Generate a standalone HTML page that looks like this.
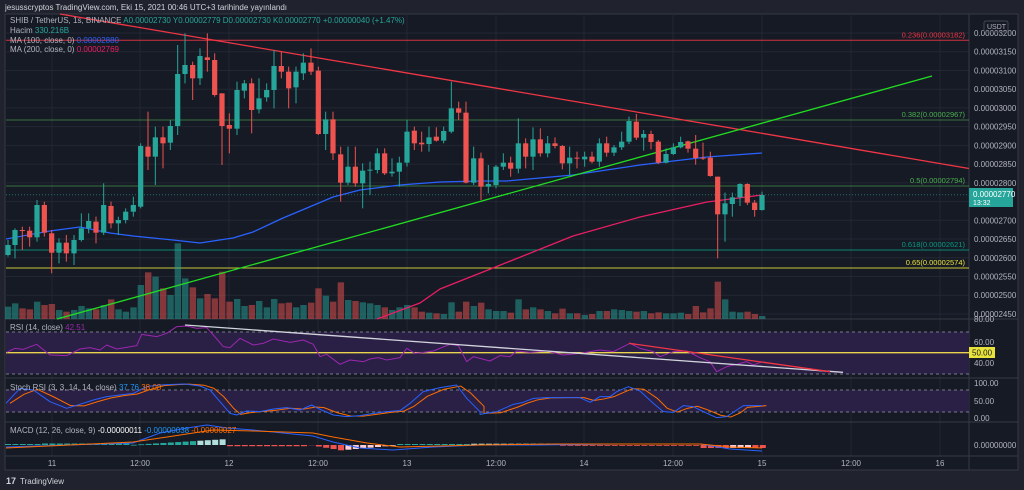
<!DOCTYPE html>
<html><head><meta charset="utf-8"><style>
html,body{margin:0;padding:0;background:#20232d;width:1024px;height:490px;overflow:hidden;font-family:"Liberation Sans",sans-serif}
svg text{font-family:"Liberation Sans",sans-serif}
</style></head><body>
<svg id="s" width="1024" height="490" xmlns="http://www.w3.org/2000/svg">
<rect x="0" y="0" width="1024" height="490" fill="#20232d"/>
<rect x="5" y="14" width="1013" height="456" fill="#161a25" stroke="#363a45" stroke-width="1"/>
<g id="grid"></g>
<g id="content"></g>
<text x="5" y="10" fill="#d1d4dc" font-size="8">jesusscryptos TradingView.com, Eki 15, 2021 00:46 UTC+3 tarihinde yayınlandı</text>
<text x="10" y="23" fill="#b2b5be" font-size="8">SHIB / TetherUS, 1s, BINANCE <tspan fill="#26a69a">A0.00002730 Y0.00002779 D0.00002730 K0.00002770 +0.00000040 (+1.47%)</tspan></text>
<text x="10" y="33" fill="#b2b5be" font-size="8">Hacim <tspan fill="#26a69a">330.216B</tspan></text>
<text x="10" y="43" fill="#b2b5be" font-size="8">MA (100, close, 0) <tspan fill="#2962ff">0.00002880</tspan></text>
<text x="10" y="52" fill="#b2b5be" font-size="8">MA (200, close, 0) <tspan fill="#e91e63">0.00002769</tspan></text>
<text x="10" y="330" fill="#b2b5be" font-size="8">RSI (14, close) <tspan fill="#9c27b0">42.51</tspan></text>
<text x="10" y="390" fill="#b2b5be" font-size="8">Stoch RSI (3, 3, 14, 14, close) <tspan fill="#2196f3">37.76</tspan> <tspan fill="#ff6d00">38.08</tspan></text>
<text x="10" y="433" fill="#b2b5be" font-size="8">MACD (12, 26, close, 9) <tspan fill="#fff">-0.00000011</tspan> <tspan fill="#2196f3">-0.00000038</tspan> <tspan fill="#ff6d00">-0.00000027</tspan></text>
<g fill="#b2b5be" font-size="8" id="xl"></g>
<text x="6" y="484" fill="#d1d4dc" font-size="9" font-weight="bold">17</text>
<text x="20" y="484" fill="#d1d4dc" font-size="8">TradingView</text>
</svg>
<script>
const S=document.getElementById('content'),G=document.getElementById('grid');
const NS='http://www.w3.org/2000/svg';
function el(p,t,a,txt){const e=document.createElementNS(NS,t);for(const k in a)e.setAttribute(k,a[k]);if(txt!=null)e.textContent=txt;p.appendChild(e);return e;}
const vx=[52,140,229,318,407,496,584,673,762,851,940];
vx.forEach(x=>el(G,'line',{x1:x,y1:14,x2:x,y2:456,stroke:'#232733','stroke-width':1}));
for(let k=0;k<16;k++){const y=33+k*18.73;el(G,'line',{x1:5,y1:y,x2:969,y2:y,stroke:'#232733','stroke-width':1});}
[319,378,422,456].forEach(y=>el(G,'line',{x1:5,y1:y,x2:1018,y2:y,stroke:'#363a45','stroke-width':1}));
el(G,'line',{x1:969,y1:14,x2:969,y2:470,stroke:'#363a45','stroke-width':1});
const pl=['3200','3150','3100','3050','3000','2950','2900','2850','2800','2750','2700','2650','2600','2550','2500','2450'];
pl.forEach((p,k)=>{if(p==='2750')return;el(S,'text',{x:974,y:33+k*18.73+3,fill:'#b2b5be','font-size':8},'0.0000'+p);});
el(S,'rect',{x:984,y:21,width:24,height:11,rx:2,fill:'none',stroke:'#434651'});
el(S,'text',{x:987,y:29,fill:'#b2b5be','font-size':7},'USDT');
const fib=[[40.3,'#f23645','0.236(0.00003182)'],[120,'#4caf50','0.382(0.00002967)'],[186,'#4caf50','0.5(0.00002794)'],[250,'#089981','0.618(0.00002621)'],[268,'#e8e33a','0.65(0.00002574)']];
fib.forEach(f=>{el(S,'line',{x1:6,y1:f[0],x2:969,y2:f[0],stroke:f[1],'stroke-width':1,opacity:f[1]=='#4caf50'?0.6:0.85});el(S,'text',{x:965,y:f[0]-3,fill:f[1],'font-size':7.5,'text-anchor':'end'},f[2]);});
el(S,'line',{x1:6,y1:194.7,x2:969,y2:194.7,stroke:'#26a69a','stroke-width':1,'stroke-dasharray':'1,2',opacity:0.6});
const A=[[24,675,705,660,710,1],[45,630,675,625,715,1],[67,630,633,620,690,0],[89,632,652,620,680,0],[111,555,652,540,665,1],[133,555,638,545,650,0],[155,640,698,630,760,0],[177,668,698,655,730,1],[199,668,700,645,725,0],[222,660,700,645,735,1],[244,625,660,580,665,1],[266,603,625,580,640,1],[288,605,638,590,670,0],[311,555,638,490,645,1],[333,558,610,545,625,0],[355,600,610,590,645,1],[377,575,600,565,610,1],[400,555,575,530,590,1],[422,378,560,370,565,1],[444,380,410,275,450,0],[466,352,410,320,495,1],[489,352,370,320,445,0],[511,318,368,300,390,1],[533,162,318,75,345,1],[555,135,162,40,190,1],[578,135,175,125,240,0],[600,108,175,85,195,1],[622,112,120,40,155,0],[644,120,225,100,230,0],[666,220,318,220,435,0],[688,315,326,280,400,0],[711,210,326,185,345,1],[733,190,212,180,235,1],[755,190,270,175,340,0],[777,235,268,175,280,1],[800,210,232,190,245,1],[822,138,210,90,265,1],[844,138,155,95,175,0],[866,155,205,140,265,0],[888,155,202,140,250,1],[910,128,160,100,180,1],[933,128,155,85,165,0],[955,152,342,140,345,0],[977,298,342,275,390,1],[999,298,400,275,420,0],[1022,403,488,380,545,0],[1044,440,488,380,495,1],[1066,440,490,380,500,0],[1088,452,490,430,565,1],[1110,449,452,425,525,1],[1132,400,450,385,460,1],[1154,400,460,385,465,0],[1176,455,460,415,470,1],[1198,428,455,410,500,1],[1221,335,428,300,440,1],[1243,332,370,320,390,0],[1265,368,373,335,395,0],[1287,352,372,320,395,1],[1309,350,362,322,365,0],[1331,333,362,320,370,1],[1354,265,335,185,340,1],[1376,265,278,245,300,0],[1398,278,488,245,490,0]];
const B=[[101,415,488,380,495,1],[123,415,500,398,540,0],[145,492,500,435,520,1],[168,440,495,435,505,1],[190,428,440,400,450,1],[212,428,446,410,470,0],[235,370,446,295,460,1],[257,370,410,355,445,0],[279,358,410,322,450,1],[301,358,400,325,410,0],[323,370,400,348,412,1],[345,370,378,352,385,0],[367,378,430,375,448,0],[389,413,430,380,465,1],[411,413,416,395,445,0],[434,410,418,395,440,1],[456,410,425,395,430,0],[478,370,425,355,440,1],[500,370,398,350,410,0],[522,382,398,375,408,1],[545,365,382,335,390,1],[567,303,365,290,372,1],[589,305,353,282,360,0],[611,342,353,330,392,1],[633,342,366,332,388,0],[655,365,428,360,432,0],[678,402,428,385,430,1],[700,382,402,370,405,1],[722,366,382,350,385,1],[744,364,386,362,398,0],[767,386,414,345,434,0],[789,413,415,368,420,0],[811,413,468,395,470,0],[833,470,583,470,715,0],[855,550,583,518,665,1],[877,532,552,518,590,1],[900,492,532,490,558,1],[922,492,548,490,555,0],[944,548,570,540,590,0],[966,525,570,515,572,1]];
const VA=[860,850,865,868,845,855,852,870,875,870,858,865,868,855,838,868,875,862,795,757,770,805,825,670,775,802,835,822,835,755,845,837,858,855,843,862,837,850,848,862,855,848,805,827,845,787,840,843,847,850,855,862,870,862,855,862,875,878,880,882,847,875,845];
const VB=[858,848,868,873,873,878,838,868,862,868,873,880,866,880,880,885,882,873,873,868,870,873,875,873,880,877,880,880,878,882,858,877,865,785,838,875,877,875,882,888];
const cand=[];
A.forEach((c,i)=>cand.push({x:c[0]/3,t:20+c[1]/3,b:20+c[2]/3,wt:20+c[3]/3,wb:20+c[4]/3,g:c[5],v:20+VA[i]/3}));
B.forEach((c,i)=>cand.push({x:440+c[0]/3,t:20+c[1]/3,b:20+c[2]/3,wt:20+c[3]/3,wb:20+c[4]/3,g:c[5],v:20+VB[i]/3}));
cand.forEach(c=>{el(S,'rect',{x:c.x-3,y:c.v,width:6.4,height:319-c.v,fill:c.g?'#26a69a':'#ef5350',opacity:0.5});});
function pl2(pts,col,w){el(S,'polyline',{points:pts.map(p=>p.join(',')).join(' '),fill:'none',stroke:col,'stroke-width':w||1.3,'stroke-linejoin':'round'});}
pl2([[6,239],[50,231],[80,227],[110,233],[133,236],[173,240],[200,243],[233,238],[253,232],[283,218],[307,208],[333,197],[360,190],[400,185],[440,182],[480,181],[507,181],[573,175],[640,165],[707,157],[762,153]],'#2962ff');
pl2([[377,319],[420,303],[440,289],[493,268],[573,236],[640,217],[707,202],[762,195]],'#e91e63');
el(S,'line',{x1:60,y1:14,x2:969,y2:168.5,stroke:'#f23645','stroke-width':1.3});
el(S,'line',{x1:57,y1:319,x2:932,y2:76,stroke:'#22dd22','stroke-width':1.3});
cand.forEach(c=>{const col=c.g?'#26a69a':'#ef5350';el(S,'line',{x1:c.x,y1:c.wt,x2:c.x,y2:c.wb,stroke:col,'stroke-width':1});el(S,'rect',{x:c.x-2.6,y:c.t,width:5.2,height:Math.max(1,c.b-c.t),fill:col});});
el(S,'rect',{x:969,y:188,width:44,height:19,fill:'#26a69a'});
el(S,'text',{x:973,y:197,fill:'#fff','font-size':8},'0.00002770');
el(S,'text',{x:973,y:205,fill:'#fff','font-size':7},'13:32');
el(S,'rect',{x:6,y:332,width:963,height:42,fill:'#2a1f45'});
[332,374].forEach(y=>el(S,'line',{x1:6,y1:y,x2:969,y2:y,stroke:'#787b86','stroke-width':1,'stroke-dasharray':'3,3'}));
el(S,'line',{x1:6,y1:352.7,x2:969,y2:352.7,stroke:'#e8d44d','stroke-width':1.3});
const r5=[[20,112],[45,100],[70,103],[110,88],[150,120],[200,122],[240,102],[270,98],[300,105],[320,90],[350,102],[380,97],[410,92],[425,58],[450,62],[470,65],[500,55],[530,35],[560,33],[590,40],[620,38],[640,60],[670,95],[690,98],[720,70],[760,90],[790,85],[820,72],[870,82],[910,75],[940,88],[960,125],[980,118],[1020,148],[1050,135],[1090,140],[1110,132],[1135,128],[1160,135],[1200,128],[1220,100],[1245,115],[1270,112],[1300,108],[1350,88],[1375,92],[1400,140],[1420,125],[1440,130]].map(p=>[p[0]/3,315+p[1]/3]);
const r6=[[30,138],[60,122],[90,125],[110,108],[150,112],[200,108],[250,120],[300,115],[360,105],[400,110],[450,85],[480,100],[520,110],[540,125],[580,110],[620,108],[660,128],[690,140],[710,170],[740,155],[770,148],[800,140],[820,150],[847,140]].map(p=>[480+p[0]/3,315+p[1]/3]);
pl2(r5.concat(r6),'#9c27b0',1);
el(S,'line',{x1:185,y1:325,x2:843,y2:372.3,stroke:'#d1d4dc','stroke-width':1.3});
el(S,'line',{x1:629,y1:343.3,x2:830,y2:371.7,stroke:'#f23645','stroke-width':1.3});
[['80.00',322],['60.00',345],['40.00',366]].forEach(a=>el(S,'text',{x:974,y:a[1],fill:'#b2b5be','font-size':8},a[0]));
el(S,'rect',{x:969,y:347,width:26,height:11,fill:'#e8e33a'});
el(S,'text',{x:972,y:355.5,fill:'#131722','font-size':8},'50.00');
el(S,'rect',{x:6,y:390,width:963,height:22,fill:'#2a1f45'});
[390,412].forEach(y=>el(S,'line',{x1:6,y1:y,x2:969,y2:y,stroke:'#787b86','stroke-width':1,'stroke-dasharray':'3,3'}));
const sb5=[[18,265],[60,220],[100,225],[150,260],[200,280],[240,268],[280,255],[320,245],[360,240],[400,235],[440,215],[480,210],[520,208],[555,207],[600,213],[630,225],[660,260],[690,295],[710,300],[740,288],[780,290],[820,282],[860,278],[900,285],[935,270],[960,283],[1000,300],[1040,305],[1080,302],[1120,295],[1160,290],[1200,287],[1230,265],[1270,230],[1320,218],[1370,210],[1400,250],[1440,290]].map(p=>[p[0]/3,315+p[1]/3]);
const sb6=[[0,298],[50,290],[100,268],[130,262],[160,250],[200,248],[250,248],[300,248],[330,262],[360,245],[390,245],[410,230],[445,215],[480,228],[520,265],[550,290],[580,292],[610,272],[640,275],[670,290],[710,308],[740,305],[770,285],[790,272],[847,272]].map(p=>[480+p[0]/3,315+p[1]/3]);
const sb=sb5.concat(sb6);
const so=sb.map((p,i)=>[p[0]+4,p[1]+ (i>0?(sb[i-1][1]-p[1])*0.4:0)]);
pl2(so,'#ff6d00',1);pl2(sb,'#2962ff',1);
[['100.00',386],['50.00',404],['0.00',421]].forEach(a=>el(S,'text',{x:974,y:a[1],fill:'#b2b5be','font-size':8},a[0]));
const z=445;
for(let x=8;x<763;x+=7.4){let h=0,c='#26a69a';
 if(x<45)h=1;else if(x<130)h=1.5;else if(x<228){h=(x-130)/98*6;c=x>195?'#b2dfdb':'#26a69a';}
 else if(x<310){h=-1.2;c='#ef5350';}else if(x<345){h=-(x-310)/35*6;c='#ef5350';}else if(x<400){h=-(1-(x-345)/55)*5;c='#ffcdd2';}
 else if(x<470){h=1;c='#26a69a';}else if(x<560){h=1.3;c='#b2dfdb';}else if(x<700){h=-0.8;c='#ef5350';}else{h=-3;c=(x>730&&x<750)?'#ffcdd2':'#ef5350';}
 if(h>=0)el(S,'rect',{x:x-3,y:z-h,width:6,height:Math.max(h,0.8),fill:c});else el(S,'rect',{x:x-3,y:z,width:6,height:-h,fill:c});}
pl2([[6,447],[133,443],[160,433],[187,428],[207,425],[227,428],[253,430],[313,436],[333,442],[360,448],[393,450],[433,447],[480,445],[540,445],[620,444],[700,444],[730,449],[762,451]],'#2962ff',1);
pl2([[6,448],[133,442],[167,437],[213,430],[253,431],[313,433],[333,437],[367,443],[400,447],[480,445],[560,444],[640,444],[700,444],[730,447],[762,448]],'#ff6d00',1);
el(S,'text',{x:974,y:448,fill:'#b2b5be','font-size':8},'0.00000000');
const xl=document.getElementById('xl');
const labs=['11','12:00','12','12:00','13','12:00','14','12:00','15','12:00','16'];
vx.forEach((x,i)=>el(xl,'text',{x:x,y:466,'text-anchor':'middle'},labs[i]));
</script>
</body></html>
